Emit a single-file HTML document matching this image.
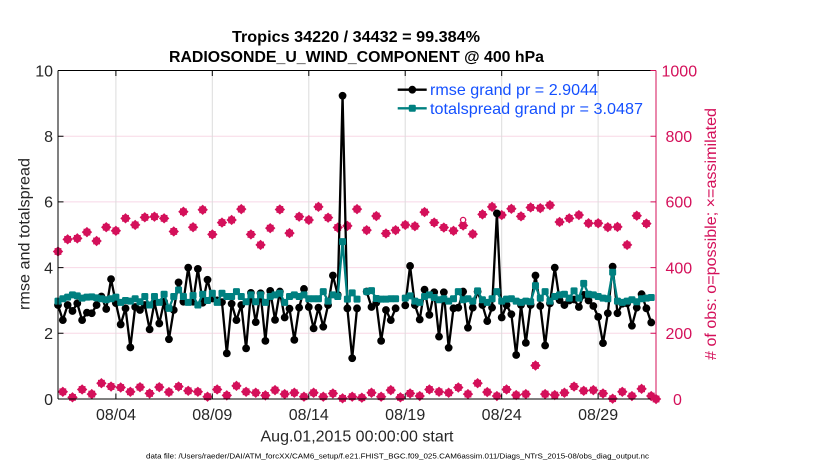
<!DOCTYPE html>
<html><head><meta charset="utf-8"><style>
html,body{margin:0;padding:0;background:#fff;width:830px;height:470px;overflow:hidden}
svg{display:block}
</style></head><body>
<svg width="830" height="470" viewBox="0 0 830 470" xmlns="http://www.w3.org/2000/svg" font-family="'Liberation Sans', Arial, sans-serif">
<defs>
<marker id="mb" markerUnits="userSpaceOnUse" overflow="visible" refX="0" refY="0" markerWidth="1" markerHeight="1"><circle r="3.9" fill="#000" transform="scale(0.20734,-0.030441)"/></marker>
<marker id="mt" markerUnits="userSpaceOnUse" overflow="visible" refX="0" refY="0" markerWidth="1" markerHeight="1"><rect x="-3.5" y="-3.5" width="7" height="7" rx="1.4" fill="#008080" transform="scale(0.20734,-0.030441)"/></marker>
<marker id="mp" markerUnits="userSpaceOnUse" overflow="visible" refX="0" refY="0" markerWidth="1" markerHeight="1"><g transform="scale(0.20734,-0.030441)" fill="#d4105a"><polygon points="0,-5.2 5.2,0 0,5.2 -5.2,0"/><rect x="-3.4" y="-3.4" width="6.8" height="6.8"/></g></marker>
</defs>

<!-- grid -->
<g stroke="#f8d8e6" stroke-width="1">
<line x1="58" y1="333.3" x2="656" y2="333.3"/>
<line x1="58" y1="267.6" x2="656" y2="267.6"/>
<line x1="58" y1="201.9" x2="656" y2="201.9"/>
<line x1="58" y1="136.2" x2="656" y2="136.2"/>
</g>
<g stroke="#dcdcdc" stroke-width="1">
<line x1="115.9" y1="70.5" x2="115.9" y2="399"/>
<line x1="212.3" y1="70.5" x2="212.3" y2="399"/>
<line x1="308.8" y1="70.5" x2="308.8" y2="399"/>
<line x1="405.2" y1="70.5" x2="405.2" y2="399"/>
<line x1="501.7" y1="70.5" x2="501.7" y2="399"/>
<line x1="598.1" y1="70.5" x2="598.1" y2="399"/>
</g>

<g transform="translate(58 399) scale(4.823 -32.85)">
<polyline fill="none" stroke="none" marker-start="url(#mp)" marker-mid="url(#mp)" marker-end="url(#mp)" points="0,4.49 1,.22 2,4.86 3,.05 4,4.89 5,.29 6,5.08 7,.15 8,4.81 9,.48 10,5.23 11,.38 12,5.12 13,.35 14,5.5 15,.22 16,5.3 17,.36 18,5.53 19,.17 20,5.55 21,.36 22,5.5 23,.21 24,5.1 25,.38 26,5.7 27,.25 28,5.23 29,.22 30,5.76 31,.07 32,5.01 33,.29 34,5.37 35,.11 36,5.45 37,.4 38,5.78 39,.22 40,5.01 41,.19 42,4.69 43,.11 44,5.2 45,.27 46,5.77 47,.15 48,5.05 49,.19 50,5.55 51,.07 52,5.45 53,.19 54,5.85 55,.07 56,5.52 57,.17 58,5.22 59,.02 60,5.27 61,.07 62,5.78 63,.04 64,5.14 65,.19 66,5.57 67,.07 68,5.04 69,.27 70,5.14 71,.05 72,5.3 73,.17 74,5.26 75,.09 76,5.69 77,.29 78,5.37 79,.22 80,5.22 81,.19 82,5.12 83,.35 84,5.28 85,.15 86,5.02 87,.48 88,5.62 89,.21 90,5.85 91,.09 92,5.6 93,.29 94,5.79 95,.12 96,5.56 97,.15 98,5.83 99,1.02 100,5.81 101,.15 102,5.9 103,.12 104,5.39 105,.19 106,5.5 107,.38 108,5.6 109,.25 110,5.35 111,.27 112,5.35 113,.17 114,5.23 115,.01 116,5.24 117,.22 118,4.69 119,.09 120,5.58 121,.31 122,5.34 123,.09 124,0"/>

<g fill="none" stroke="#000" stroke-width="2.3" stroke-linejoin="round">
<polyline vector-effect="non-scaling-stroke" marker-start="url(#mb)" marker-mid="url(#mb)" marker-end="url(#mb)" points="0,2.86 1,2.4 2,2.86 3,2.68 4,2.91 5,2.4 6,2.63 7,2.61 8,2.86 9,3.12 10,2.74 11,3.65 12,2.92 13,2.27 14,2.76 15,1.57 16,2.8 17,2.71 18,2.86 19,2.12 20,2.94 21,2.3 22,2.96 23,1.82 24,2.71 25,3.55 26,2.96 27,4 28,2.96 29,3.96 30,2.93 31,3.63 32,3.06 33,3 34,2.95 35,1.39 36,2.9 37,2.4 38,2.86 39,1.54 40,3.23 41,2.34 42,3.22 43,1.77 44,3.29 45,2.41 46,3.27 47,2.48 48,2.75 49,1.8 50,2.78 51,3.35 52,2.8 53,2.15 54,2.78 55,2.2 56,2.86 57,3.76 58,3.17 59,9.23 60,2.76 61,1.24 62,2.76"/>
<polyline vector-effect="non-scaling-stroke" marker-start="url(#mb)" marker-mid="url(#mb)" marker-end="url(#mb)" points="64,3.27 65,2.8 66,2.93 67,1.77 68,2.71 69,2.4 70,2.76"/>
<polyline vector-effect="non-scaling-stroke" marker-start="url(#mb)" marker-mid="url(#mb)" marker-end="url(#mb)" points="72,2.85 73,4.05 74,2.86 75,2.42 76,3.33 77,2.56 78,3.25 79,1.9 80,3.25 81,1.56 82,2.76 83,2.78 84,3.27 85,2.17 86,2.78 87,3.27 88,2.86 89,2.37 90,2.78 91,5.65 92,2.48 93,2.86 94,2.58 95,1.34 96,2.86 97,1.71 98,2.86 99,3.76 100,2.83 101,1.63 102,2.91 103,4 104,3.01 105,2.86 106,3 107,3.03 108,2.8 109,3.17 110,3 111,2.83 112,2.5 113,1.7 114,2.61 115,4.03 116,2.61 117,2.9 118,2.91 119,2.23 120,2.78 121,3.19 122,2.76 123,2.33"/>
</g>

<g fill="none" stroke="#008080" stroke-width="2.3" stroke-linejoin="round">
<polyline vector-effect="non-scaling-stroke" marker-start="url(#mt)" marker-mid="url(#mt)" marker-end="url(#mt)" points="0,2.98 1,3.05 2,3.1 3,3.17 4,3.14 5,3.07 6,3.1 7,3.11 8,3.08 9,3.05 10,3.02 11,3.05 12,3.1 13,2.94 14,3 15,2.98 16,3.05 17,2.96 18,3.12 19,2.86 20,3.12 21,2.94 22,3.19 23,2.76 24,3.12 25,3.32 26,3.12 27,2.94 28,3.15 29,2.86 30,3.19 31,3 32,3.22 33,2.94 34,3.22 35,3.12 36,3.12 37,3.27 38,3.12 39,2.96 40,3.17 41,2.96 42,3.17 43,2.94 44,3.12 45,3.17 46,3.22 47,2.94 48,3.12 49,3.17 50,3.12 51,3.17 52,3.05 53,3.05 54,3.05 55,3.27 56,2.98 57,3.17 58,3.12 59,4.79 60,3.04 61,3.23 62,3.04"/>
<polyline vector-effect="non-scaling-stroke" marker-start="url(#mt)" marker-mid="url(#mt)" marker-end="url(#mt)" points="64,3.27 65,3.3 66,3.06 67,3.04 68,3.04 69,3.05 70,3.05"/>
<polyline vector-effect="non-scaling-stroke" marker-start="url(#mt)" marker-mid="url(#mt)" marker-end="url(#mt)" points="72,3.07 73,3.14 74,2.98 75,2.94 76,3.12 77,3.17 78,3.09 79,3.02 80,3.05 81,2.98 82,3.05 83,3.27 84,3.02 85,3.05 86,2.98 87,3.29 88,3.02 89,2.94 90,3.05 91,3.27 92,2.98 93,3.04 94,3.05 95,2.98 96,2.94 97,2.98 98,2.96 99,3.45 100,3.07 101,3.27 102,2.98 103,3.12 104,3.17 105,3.19 106,3.07 107,3.29 108,3.07 109,3.52 110,3.19 111,3.17 112,3.12 113,3.07 114,3.05 115,3.86 116,2.98 117,2.94 118,2.98 119,3.02 120,2.96 121,3.05 122,3.07 123,3.09"/>
</g>
</g>

<circle cx="463.1" cy="220" r="2.6" fill="#fff" stroke="#d4105a" stroke-width="1.3"/>

<g stroke="#000" stroke-width="1" fill="none">
<line x1="58" y1="70.5" x2="656" y2="70.5"/>
<line x1="58" y1="399" x2="656" y2="399"/>
<line x1="58" y1="70.5" x2="58" y2="399"/>
<path d="M115.9 399v-5.5M212.3 399v-5.5M308.8 399v-5.5M405.2 399v-5.5M501.7 399v-5.5M598.1 399v-5.5M115.9 70.5v5.5M212.3 70.5v5.5M308.8 70.5v5.5M405.2 70.5v5.5M501.7 70.5v5.5M598.1 70.5v5.5"/>
<path d="M58 399h5.5M58 333.3h5.5M58 267.6h5.5M58 201.9h5.5M58 136.2h5.5M58 70.5h5.5"/>
</g>
<g stroke="#d4105a" stroke-width="1" fill="none">
<line x1="656" y1="70.5" x2="656" y2="399"/>
<path d="M656 399h-5.5M656 333.3h-5.5M656 267.6h-5.5M656 201.9h-5.5M656 136.2h-5.5M656 70.5h-5.5"/>
</g>

<g font-weight="bold" font-size="16" fill="#000" text-anchor="middle">
<text x="356" y="42" textLength="248" lengthAdjust="spacingAndGlyphs">Tropics 34220 / 34432 = 99.384%</text>
<text x="356.5" y="62" textLength="375" lengthAdjust="spacingAndGlyphs">RADIOSONDE_U_WIND_COMPONENT @ 400 hPa</text>
</g>

<g font-size="16" fill="#262626" text-anchor="end">
<text x="53" y="76.3">10</text>
<text x="53" y="142">8</text>
<text x="53" y="207.7">6</text>
<text x="53" y="273.4">4</text>
<text x="53" y="339.1">2</text>
<text x="53" y="404.8">0</text>
</g>
<g font-size="16" fill="#d4105a">
<text x="661.5" y="76.3">1000</text>
<text x="665.5" y="142">800</text>
<text x="665.5" y="207.7">600</text>
<text x="665.5" y="273.4">400</text>
<text x="665.5" y="339.1">200</text>
<text x="673" y="404.8">0</text>
</g>
<g font-size="16" fill="#262626" text-anchor="middle">
<text x="116" y="420">08/04</text>
<text x="212.3" y="420">08/09</text>
<text x="308.8" y="420">08/14</text>
<text x="405.2" y="420">08/19</text>
<text x="501.7" y="420">08/24</text>
<text x="598.1" y="420">08/29</text>
<text x="357" y="441.5" textLength="193" lengthAdjust="spacingAndGlyphs">Aug.01,2015 00:00:00 start</text>
</g>

<text transform="translate(29.5 234) rotate(-90)" font-size="16" fill="#262626" text-anchor="middle" textLength="152" lengthAdjust="spacingAndGlyphs">rmse and totalspread</text>
<text transform="translate(716 234) rotate(-90)" font-size="16" fill="#d4105a" text-anchor="middle" textLength="252" lengthAdjust="spacingAndGlyphs"># of obs: o=possible; ×=assimilated</text>

<line x1="397.7" y1="89.7" x2="426.7" y2="89.7" stroke="#000" stroke-width="2.3"/>
<circle cx="412.3" cy="89.7" r="3.9" fill="#000"/>
<line x1="397.7" y1="108.3" x2="426.7" y2="108.3" stroke="#008080" stroke-width="2.3"/>
<rect x="408.8" y="104.8" width="7" height="7" rx="1.4" fill="#008080"/>
<g font-size="16" fill="#1450ff">
<text x="430" y="95.2" textLength="168" lengthAdjust="spacingAndGlyphs">rmse grand pr = 2.9044</text>
<text x="430" y="113.8" textLength="213" lengthAdjust="spacingAndGlyphs">totalspread grand pr = 3.0487</text>
</g>

<text x="397.5" y="458.5" font-size="7.5" fill="#000" text-anchor="middle" textLength="503" lengthAdjust="spacingAndGlyphs">data file: /Users/raeder/DAI/ATM_forcXX/CAM6_setup/f.e21.FHIST_BGC.f09_025.CAM6assim.011/Diags_NTrS_2015-08/obs_diag_output.nc</text>
</svg>
</body></html>
